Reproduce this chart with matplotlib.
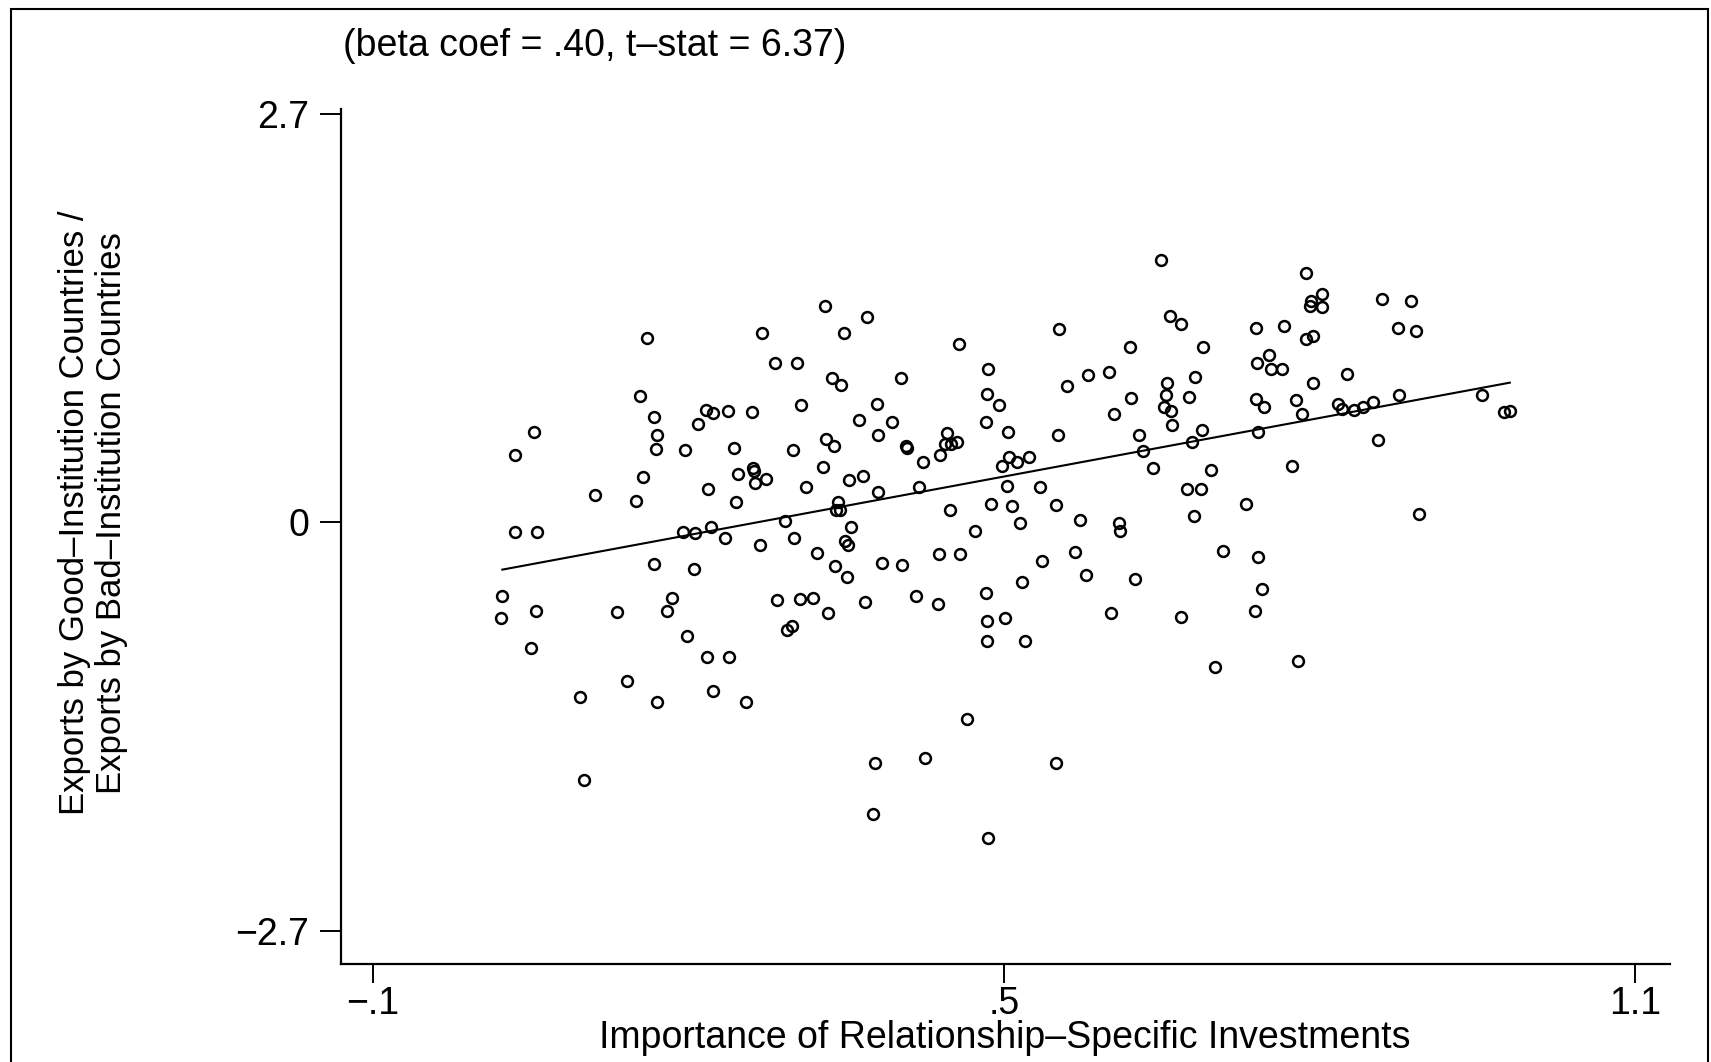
import matplotlib
matplotlib.use("Agg")
import matplotlib.pyplot as plt
from matplotlib.patches import Rectangle

plt.rcParams['font.family'] = ['Liberation Sans', 'DejaVu Sans']

# Importance of relationship-specific investments (x) and export ratio (y)
x_vals = [0.023, 0.022, 0.035, 0.035, 0.050, 0.053, 0.056, 0.055, 0.097, 0.101,
          0.111, 0.132, 0.142, 0.150, 0.154, 0.157, 0.161, 0.167, 0.170, 0.169,
          0.167, 0.170, 0.180, 0.184, 0.197, 0.195, 0.199, 0.205, 0.206, 0.209,
          0.217, 0.219, 0.221, 0.223, 0.218, 0.223, 0.235, 0.238, 0.239, 0.243,
          0.245, 0.247, 0.255, 0.260, 0.261, 0.262, 0.263, 0.268, 0.270, 0.274,
          0.282, 0.284, 0.292, 0.294, 0.298, 0.299, 0.300, 0.303, 0.306, 0.307,
          0.312, 0.318, 0.322, 0.328, 0.330, 0.331, 0.333, 0.336, 0.338, 0.339,
          0.340, 0.342, 0.344, 0.345, 0.348, 0.349, 0.351, 0.352, 0.353, 0.355,
          0.362, 0.366, 0.370, 0.368, 0.377, 0.375, 0.379, 0.380, 0.384, 0.380,
          0.394, 0.402, 0.403, 0.407, 0.408, 0.416, 0.419, 0.423, 0.425, 0.437,
          0.438, 0.439, 0.444, 0.446, 0.449, 0.450, 0.455, 0.458, 0.457, 0.465,
          0.472, 0.483, 0.483, 0.485, 0.484, 0.484, 0.484, 0.485, 0.488, 0.495,
          0.498, 0.501, 0.503, 0.504, 0.505, 0.508, 0.512, 0.515, 0.517, 0.520,
          0.524, 0.534, 0.536, 0.549, 0.549, 0.551, 0.552, 0.560, 0.568, 0.572,
          0.578, 0.580, 0.600, 0.602, 0.605, 0.609, 0.610, 0.620, 0.621, 0.625,
          0.628, 0.632, 0.642, 0.649, 0.652, 0.654, 0.655, 0.658, 0.659, 0.660,
          0.668, 0.668, 0.674, 0.676, 0.679, 0.681, 0.682, 0.687, 0.688, 0.689,
          0.697, 0.701, 0.708, 0.730, 0.739, 0.740, 0.740, 0.741, 0.742, 0.742,
          0.745, 0.747, 0.752, 0.754, 0.766, 0.764, 0.774, 0.778, 0.780, 0.783,
          0.787, 0.787, 0.792, 0.791, 0.794, 0.794, 0.802, 0.802, 0.818, 0.821,
          0.826, 0.833, 0.841, 0.851, 0.856, 0.859, 0.875, 0.876, 0.887, 0.892,
          0.895, 0.955, 0.975, 0.981]
y_vals = [-0.484, -0.635, 0.448, -0.065, -0.830, 0.599, -0.065, -0.585, -1.155, -1.704,
          0.181, -0.592, -1.047, 0.144, 0.838, 0.303, 1.220, 0.700, 0.578, 0.484,
          -0.274, -1.184, -0.585, -0.498, 0.477, -0.065, -0.751, -0.310, -0.072, 0.650,
          0.744, 0.224, -0.029, 0.722, -0.888, -1.112, -0.101, 0.736, -0.888, 0.491,
          0.137, 0.318, -1.184, 0.729, 0.361, 0.339, 0.260, -0.152, 1.249, 0.289,
          1.054, -0.513, 0.007, -0.708, -0.686, 0.477, -0.101, 1.054, -0.505, 0.773,
          0.231, -0.498, -0.202, 0.368, 1.430, 0.549, -0.599, 0.953, 0.505, -0.289,
          0.079, 0.137, 0.079, 0.910, 1.249, -0.123, -0.361, -0.152, 0.282, -0.029,
          0.679, 0.310, 1.357, -0.527, -1.588, -1.928, 0.780, 0.578, -0.267, 0.202,
          0.664, 0.953, -0.282, 0.505, 0.491, -0.484, 0.231, 0.397, -1.560, -0.542,
          -0.209, 0.448, 0.520, 0.592, 0.079, 0.520, 0.534, -0.209, 1.177, -1.300,
          -0.058, -0.469, 0.664, 1.011, 0.852, -0.650, -0.787, -2.087, 0.123, 0.773,
          0.375, -0.635, 0.238, 0.599, 0.433, 0.108, 0.397, -0.007, -0.397, -0.787,
          0.433, 0.231, -0.253, 0.116, -1.588, 0.578, 1.278, 0.903, -0.195, 0.014,
          -0.347, 0.975, 0.996, -0.599, 0.715, -0.007, -0.058, 1.162, 0.823, -0.375,
          0.578, 0.469, 0.361, 1.733, 0.765, 0.845, 0.924, 1.365, 0.736, 0.643,
          1.314, -0.628, 0.224, 0.830, 0.534, 0.043, 0.960, 0.224, 0.614, 1.162,
          0.347, -0.953, -0.188, 0.123, -0.585, 0.816, 1.285, 1.054, 0.599, -0.231,
          -0.440, 0.765, 1.105, 1.011, 1.300, 1.011, 0.375, 0.809, -0.917, 0.715,
          1.646, 1.213, 1.466, 1.430, 1.235, 0.924, 1.509, 1.422, 0.780, 0.751,
          0.982, 0.744, 0.765, 0.794, 0.542, 1.480, 1.285, 0.845, 1.466, 1.264,
          0.058, 0.845, 0.729, 0.736]

# Fitted regression line end points
fit_x = [0.023, 0.981]
fit_y = [-0.312, 0.924]

x_ticks = [-0.1, 0.5, 1.1]
x_tick_labels = ['\u2212.1', '.5', '1.1']
y_ticks = [-2.7, 0, 2.7]
y_tick_labels = ['\u22122.7', '0', '2.7']

title_text = '(beta coef = .40, t\u2013stat = 6.37)'
x_label = 'Importance of Relationship\u2013Specific Investments'
y_label = 'Exports by Good\u2013Institution Countries /\nExports by Bad\u2013Institution Countries'

W, H = 1711, 1062
fig = plt.figure(figsize=(W / 100, H / 100), dpi=100)
fig.patch.set_facecolor('white')

ax = fig.add_axes([341 / W, 1 - 964 / H, (1670 - 341) / W, (964 - 109) / H])
ax.plot(x_vals, y_vals, linestyle='none', marker='o', ms=7.8, mfc='none',
        mec='black', mew=1.8)
ax.plot(fit_x, fit_y, color='black', lw=1.5)

ax.set_xlim(-0.1304, 1.1333)
ax.set_ylim(-2.919, 2.733)
for side in ('top', 'right'):
    ax.spines[side].set_visible(False)
for side in ('left', 'bottom'):
    ax.spines[side].set_linewidth(1.6)

ax.set_xticks(x_ticks)
ax.set_xticklabels(x_tick_labels, fontsize=27)
ax.set_yticks(y_ticks)
ax.set_yticklabels(y_tick_labels, fontsize=27)
ax.tick_params(axis='x', direction='out', length=14, width=1.4, pad=2)
ax.tick_params(axis='y', direction='out', length=15, width=1.4, pad=8)

fig.text(343 / W, 1 - 46 / H, title_text, fontsize=27, ha='left', va='center')
fig.text(1005 / W, 1 - 1038 / H, x_label, fontsize=27, ha='center', va='center')
fig.text(93 / W, 1 - 513 / H, y_label, fontsize=25, ha='center', va='center',
         rotation=90, linespacing=1.15, multialignment='center')

# Outer frame of the figure
fig.patches.append(Rectangle((11 / W, -0.05), (1708 - 11) / W, 1.05 - 9 / H,
                             transform=fig.transFigure, fill=False,
                             edgecolor='black', lw=1.5))

fig.savefig('out.png', dpi=100)
